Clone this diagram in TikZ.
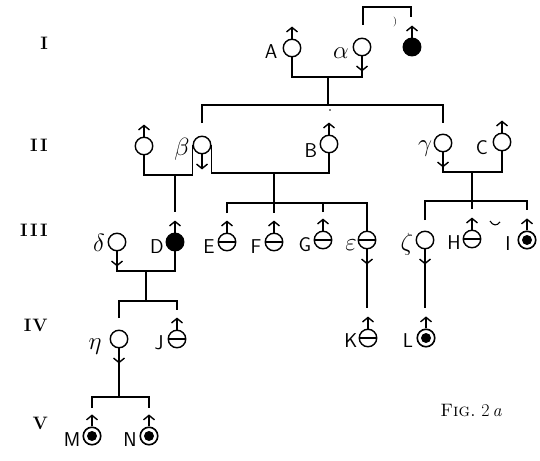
\documentclass[tikz,border=0pt]{standalone}
\usepackage{fontspec}
\usetikzlibrary{arrows.meta,calc}
\begin{document}
\begin{tikzpicture}[x=1pt,y=-1pt,
  ind/.style={circle,draw,line width=1.4pt,minimum size=17.5pt,inner sep=0pt},
  aff/.style={ind,fill=black},
  half/.style={ind,path picture={\draw[line width=1.3pt] (path picture bounding box.west) -- (path picture bounding box.east);}},
  ringed/.style={ind,line width=1.6pt,path picture={\fill (path picture bounding box.center) circle (5pt);}},
  sym/.style={line width=1.4pt,-{Straight Barb[length=4.5pt,width=11pt,line width=1.4pt]}},
  link/.style={line width=1.5pt},
  lab/.style={font=\fontsize{20}{20}\selectfont\sffamily,inner sep=0pt},
  glab/.style={font=\fontsize{23}{23}\selectfont,inner sep=0pt},
  gen/.style={anchor=east,font=\fontsize{18}{18}\selectfont\bfseries,inner sep=0pt}]
\useasboundingbox (0,0) rectangle (540,460);

% generation labels
\node[gen] (gI) at (48,43) {I};
\node[gen] (gII) at (48,145) {I\kern2.5pt I};
\node[gen] (gIII) at (48,230) {I\kern2.5pt I\kern2.5pt I};
\node[gen] (gIV) at (48,325) {I\kern1pt V};
\node[gen] (gV) at (48,423) {V};

% generation I
\node[ind] (A) at (292,48) {};
\node[ind] (alpha) at (362,47) {};
\node[aff] (X) at (412,47) {};
% generation II
\node[ind] (P) at (144,146) {};
\node[ind] (beta) at (202,145) {};
\node[ind] (B) at (329,144) {};
\node[ind] (gamma) at (443,143) {};
\node[ind] (C) at (502,142) {};
% generation III
\node[ind] (delta) at (117,242) {};
\node[aff] (D) at (175,242) {};
\node[half] (E) at (227,242) {};
\node[half] (F) at (274,242) {};
\node[half] (G) at (323,240) {};
\node[half] (eps) at (367,240) {};
\node[ind] (zeta) at (425,240) {};
\node[half] (H) at (472,239) {};
\node[ringed] (I) at (527,240) {};
% generation IV
\node[ind] (eta) at (119,339) {};
\node[half] (J) at (177,339) {};
\node[half] (K) at (368,338) {};
\node[ringed] (L) at (426,338) {};
% generation V
\node[ringed] (M) at (92,436) {};
\node[ringed] (N) at (149,436) {};

% sex symbols
\foreach \n in {A,X,P,B,C,D,E,F,G,H,I,J,K,L,M,N}
  \draw[sym] (\n.north) -- ++(0,-12) coordinate (\n-t);
\foreach \n in {alpha,beta,gamma,delta,eps,zeta,eta}
  \draw[sym] (\n.south) -- ++(0,15) coordinate (\n-b);

% labels
\node[lab] (lA) at (271,52) {A};
\node[glab] (lalpha) at (341,53) {$\alpha$};
\node[glab] (lbeta) at (182,149) {$\beta$};
\node[lab] (lB) at (311,151) {B};
\node[glab] (lgamma) at (425,149) {$\gamma$};
\node[lab] (lC) at (482,148) {C};
\node[glab] (ldelta) at (99,243) {$\delta$};
\node[lab] (lD) at (157,247) {D};
\node[lab] (lE) at (209,247) {E};
\node[lab] (lF) at (256,247) {F};
\node[lab] (lG) at (305,245) {G};
\node[glab] (leps) at (351,245) {$\varepsilon$};
\node[glab] (lzeta) at (407,244) {$\zeta$};
\node[lab] (lH) at (454,243) {H};
\node[lab] (lI) at (508,244) {I};
\node[glab] (leta) at (95,347) {$\eta$};
\node[lab] (lJ) at (159,343) {J};
\node[lab] (lK) at (351,341) {K};
\node[lab] (lL) at (408,341) {L};
\node[lab] (lM) at (72,440) {M};
\node[lab] (lN) at (130,440) {N};
\node[font=\fontsize{10}{10}\selectfont,inner sep=0pt] (paren) at (395,22) {)};
\node[font=\fontsize{18}{18}\selectfont,inner sep=0pt] (fig) at (471,410) {\textsc{Fig.}~2\,\textit{a}};

% connectors, generation I
\coordinate (brL) at (363,25);
\coordinate (brT) at (387,7);
\coordinate (brR) at (411,17);
\draw[link] (brL) |- (brT) -| (brR);
\coordinate (u1) at (328,77);
\draw[link] (A.south) |- (u1) -| (alpha-b);
\coordinate (s1) at (328,105);
\draw[link] (u1) -- (s1);
\coordinate (beta-in) at (202,123);
\coordinate (gamma-in) at (443,123);
\draw[link] (beta-in) |- (s1) -| (gamma-in);
\fill (330,110) circle (0.9pt);

% generation II
\coordinate (u2) at (175,175);
\draw[link] (P.south) |- (u2) -| (beta.west);
\coordinate (D-in) at (175,212);
\draw[link] (u2) -- (D-in);
\coordinate (u3) at (274,173);
\draw[link] (beta.east) |- (u3) -| (B.south);
\coordinate (s3) at (274,203);
\draw[link] (u3) -- (s3);
\coordinate (E-in) at (227,213);
\coordinate (F-in) at (274,213);
\coordinate (G-in) at (323,212);
\draw[link] (E-in) |- (s3) -| (eps.north);
\draw[link] (s3) -- (F-in);
\draw[link] (G-in) -- (G-in |- s3);
\coordinate (u4) at (472,172);
\draw[link] (gamma-b) |- (u4) -| (C.south);
\coordinate (s4) at (472,201);
\draw[link] (u4) -- (s4);
\coordinate (zeta-in) at (425,220);
\coordinate (H-in) at (472,209);
\coordinate (I-in) at (527,210);
\draw[link] (zeta-in) |- (s4) -| (I-in);
\draw[link] (s4) -- (H-in);
\draw[line width=1.1pt] (490,221) .. controls (493,226) and (497,226) .. (500,222);

% generation III
\coordinate (u5) at (146,271);
\draw[link] (delta-b) |- (u5) -| (D.south);
\coordinate (s5) at (146,301);
\draw[link] (u5) -- (s5);
\coordinate (eta-in) at (119,318);
\coordinate (J-in) at (177,310);
\draw[link] (eta-in) |- (s5) -| (J-in);
\coordinate (K-in) at (367,308);
\draw[link] (eps-b) -- (K-in);
\coordinate (L-in) at (425,308);
\draw[link] (zeta-b) -- (L-in);

% generation IV
\coordinate (u6) at (119,397);
\draw[link] (eta-b) -- (u6);
\coordinate (M-in) at (92,408);
\coordinate (N-in) at (149,408);
\draw[link] (M-in) |- (u6) -| (N-in);
\end{tikzpicture}
\end{document}
